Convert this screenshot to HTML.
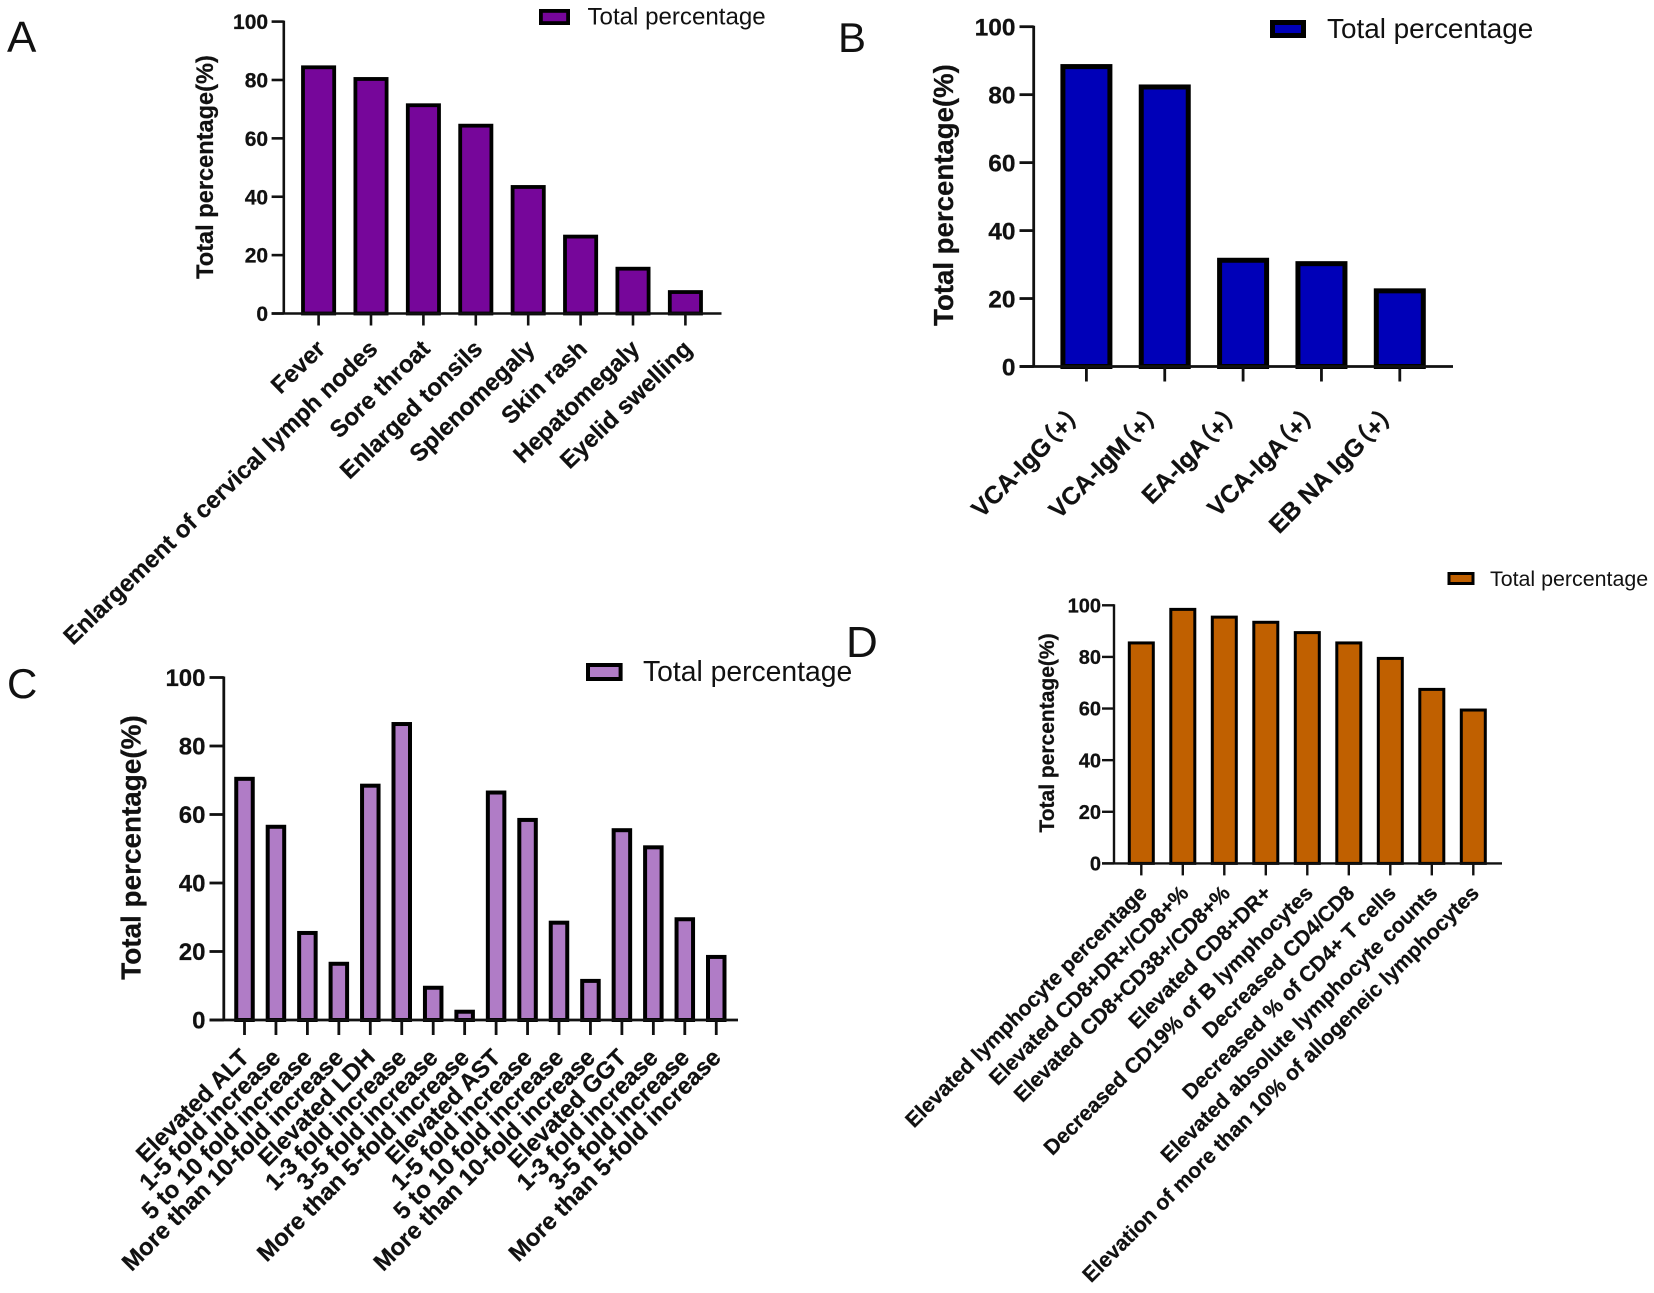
<!DOCTYPE html>
<html lang="en">
<head>
<meta charset="utf-8">
<title>Total percentage panels</title>
<style>
html,body{margin:0;padding:0;background:#fff;width:1654px;height:1293px;overflow:hidden}
svg{display:block;filter:blur(0.35px)}
text{font-family:"Liberation Sans","Noto Sans CJK SC",sans-serif;fill:#111}
text[font-weight="bold"]{stroke:#111;stroke-width:0.25px}
.palt{font-feature-settings:"palt" 1}
</style>
</head>
<body>
<svg id="figure" xmlns="http://www.w3.org/2000/svg" width="1654" height="1293" viewBox="0 0 1654 1293"></svg>
<script>
const yTicks = [0, 20, 40, 60, 80, 100];
const legendLabel = "Total percentage";
const yTitle = "Total percentage(%)";

const categoriesA = ["Fever", "Enlargement of cervical lymph nodes", "Sore throat", "Enlarged tonsils", "Splenomegaly", "Skin rash", "Hepatomegaly", "Eyelid swelling"];
const valuesA = [85, 81, 72, 65, 44, 27, 16, 8];

const categoriesB = ["VCA-IgG（+）", "VCA-IgM（+）", "EA-IgA（+）", "VCA-IgA（+）", "EB NA IgG（+）"];
const valuesB = [89, 83, 32, 31, 23];

const categoriesC = ["Elevated ALT", "1-5 fold increase", "5 to 10 fold increase", "More than 10-fold increase", "Elevated LDH", "1-3 fold increase", "3-5 fold increase", "More than 5-fold increase", "Elevated AST", "1-5 fold increase", "5 to 10 fold increase", "More than 10-fold increase", "Elevated GGT", "1-3 fold increase", "3-5 fold increase", "More than 5-fold increase"];
const valuesC = [71, 57, 26, 17, 69, 87, 10, 3, 67, 59, 29, 12, 56, 51, 30, 19];

const categoriesD = ["Elevated lymphocyte percentage", "Elevated CD8+DR+/CD8+%", "Elevated CD8+CD38+/CD8+%", "Elevated CD8+DR+", "Decreased CD19% of B lymphocytes", "Decreased CD4/CD8", "Decreased % of CD4+ T cells", "Elevated absolute lymphocyte counts", "Elevation of more than 10% of allogeneic lymphocytes"];
const valuesD = [86, 99, 96, 94, 90, 86, 80, 68, 60];

const svg = document.getElementById('figure');
const NS = 'http://www.w3.org/2000/svg';

function make(tag, attrs, text) {
  const el = document.createElementNS(NS, tag);
  for (const k in attrs) el.setAttribute(k, attrs[k]);
  if (text !== undefined) el.textContent = text;
  return el;
}

function drawPanel(p, categories, values) {
  const g = make('g', {});
  
  
  svg.appendChild(g);

  const yScale = v => p.y0 + (p.y100 - p.y0) * v / 100;
  const xScale = i => p.cx0 + i * p.step;

  const letter = make('text', {x: p.letterX, y: p.letterY, 'font-size': p.letterSize}, p.id);
  
  
  g.appendChild(letter);

  values.forEach((v, i) => {
    const s = p.stroke;
    const bar = make('rect', {
      x: xScale(i) - p.barW / 2 + s / 2,
      y: yScale(v) + s / 2,
      width: p.barW - s,
      height: p.y0 - yScale(v) - s / 2,
      fill: p.color, stroke: '#000', 'stroke-width': s
    });
    
    
    g.appendChild(bar);
  });

  const yAxis = make('line', {x1: p.axisX, x2: p.axisX, y1: p.y100 - 1, y2: p.y0 + 1, stroke: '#111', 'stroke-width': p.axisW});
  
  
  g.appendChild(yAxis);

  const xAxis = make('line', {x1: p.xLeft, x2: p.xRight, y1: p.y0, y2: p.y0, stroke: '#111', 'stroke-width': p.axisW});
  
  
  g.appendChild(xAxis);

  yTicks.forEach(t => {
    const tick = make('line', {x1: p.xLeft, x2: p.axisX, y1: yScale(t), y2: yScale(t), stroke: '#111', 'stroke-width': p.axisW});
    
    
    g.appendChild(tick);

    const lab = make('text', {x: p.xLeft - p.tickGap, y: yScale(t) + p.tickSize * 0.36, 'font-size': p.tickSize, 'font-weight': 'bold', 'text-anchor': 'end'}, String(t));
    
    
    g.appendChild(lab);
  });

  categories.forEach((c, i) => {
    const tick = make('line', {x1: xScale(i), x2: xScale(i), y1: p.y0, y2: p.y0 + p.tickLen, stroke: '#111', 'stroke-width': p.axisW});
    
    
    g.appendChild(tick);

    const ax = xScale(i) + p.labDx;
    const ay = p.y0 + p.labDy;
    const lab = make('text', {x: ax, y: ay, 'font-size': p.labSize, 'font-weight': 'bold', 'text-anchor': 'end', transform: 'rotate(' + p.labAngle + ' ' + ax + ' ' + ay + ')'}, c);
    if (p.labClass) lab.setAttribute('class', p.labClass);
    
    
    g.appendChild(lab);
  });

  const title = make('text', {x: p.titleX, y: p.titleY, 'font-size': p.titleSize, 'font-weight': 'bold', 'text-anchor': 'middle', transform: 'rotate(-90 ' + p.titleX + ' ' + p.titleY + ')'}, yTitle);
  
  
  g.appendChild(title);

  const swatch = make('rect', {x: p.swX + p.stroke / 2, y: p.swY + p.stroke / 2, width: p.swW - p.stroke, height: p.swH - p.stroke, fill: p.color, stroke: '#000', 'stroke-width': p.stroke});
  
  
  g.appendChild(swatch);

  const legend = make('text', {x: p.legX, y: p.legY, 'font-size': p.legSize}, legendLabel);
  
  
  g.appendChild(legend);
}

drawPanel({id: 'A', color: '#76069a', letterX: 7, letterY: 52, letterSize: 44,
  axisX: 283.8, xLeft: 271.6, xRight: 721.5, y0: 313.5, y100: 21.6, axisW: 2.6,
  cx0: 318.6, step: 52.4, barW: 35, stroke: 3.8, tickLen: 12, tickGap: 3.5, tickSize: 21,
  labSize: 24, labDx: 8, labDy: 37, labAngle: -44,
  titleX: 213, titleY: 167, titleSize: 23.6,
  swX: 539, swY: 9, swW: 31, swH: 16, legX: 587.5, legY: 24.5, legSize: 24.1}, categoriesA, valuesA);

drawPanel({id: 'B', color: '#0000b8', letterX: 838, letterY: 52, letterSize: 42,
  axisX: 1033.7, xLeft: 1019.5, xRight: 1453, y0: 366.5, y100: 26.7, axisW: 2.8,
  cx0: 1086.4, step: 78.35, barW: 52, stroke: 5, tickLen: 15, tickGap: 4, tickSize: 24.5,
  labSize: 24.7, labDx: -5.4, labDy: 53, labAngle: -45, labClass: 'palt',
  titleX: 953, titleY: 195, titleSize: 27.6,
  swX: 1270, swY: 20, swW: 36, swH: 18, legX: 1327, legY: 38, legSize: 27.9}, categoriesB, valuesB);

drawPanel({id: 'C', color: '#b07cc6', letterX: 7, letterY: 698, letterSize: 42,
  axisX: 223.8, xLeft: 209.5, xRight: 738, y0: 1020, y100: 677.5, axisW: 2.8,
  cx0: 244.5, step: 31.45, barW: 20.5, stroke: 4, tickLen: 15, tickGap: 4, tickSize: 24,
  labSize: 23.8, labDx: 6, labDy: 39, labAngle: -45,
  titleX: 140.5, titleY: 847.5, titleSize: 27.9,
  swX: 586, swY: 663, swW: 36.6, swH: 18, legX: 643, legY: 681, legSize: 28.3}, categoriesC, valuesC);

drawPanel({id: 'D', color: '#c06000', letterX: 846, letterY: 657, letterSize: 44,
  axisX: 1114, xLeft: 1102, xRight: 1502, y0: 863.4, y100: 605.3, axisW: 2.4,
  cx0: 1141.3, step: 41.5, barW: 27, stroke: 3, tickLen: 12, tickGap: 1, tickSize: 20,
  labSize: 21.3, labDx: 7, labDy: 31, labAngle: -45,
  titleX: 1054, titleY: 733, titleSize: 21,
  swX: 1447.5, swY: 572, swW: 27, swH: 13, legX: 1490, legY: 586, legSize: 21.4}, categoriesD, valuesD);
</script>
</body>
</html>
